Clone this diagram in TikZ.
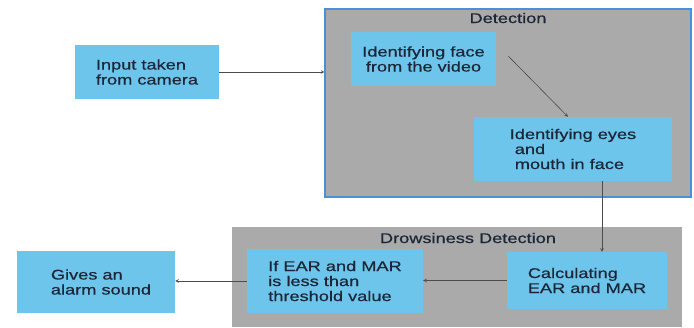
\documentclass[tikz,border=0pt]{standalone}
\usepackage{fontspec}
\setmainfont[FakeStretch=1.3]{Liberation Sans}
\newfontfamily\boxfont[FakeStretch=1.3,FakeBold=0.6]{Liberation Sans}
\usetikzlibrary{positioning}
\definecolor{boxblue}{RGB}{110,197,235}
\definecolor{panelgray}{RGB}{170,170,170}
\definecolor{panelline}{RGB}{74,144,217}
\definecolor{inkdark}{RGB}{28,38,54}
\begin{document}
\begin{tikzpicture}[x=1pt,y=-1pt,
    stepbox/.style={fill=boxblue,text=inkdark,inner sep=0pt,font=\boxfont\fontsize{14}{15}\selectfont},
    panel/.style={fill=panelgray,inner sep=0pt},
    paneltitle/.style={text=inkdark,inner sep=0pt,font=\boxfont\fontsize{14}{15}\selectfont},
    flow/.style={line width=0.6pt,draw=black!70,-stealth}]
    \useasboundingbox (0,0) rectangle (694,327);
    \node[panel,draw=panelline,line width=1.2pt,minimum width=366pt,minimum height=188pt] (det) at (508,103) {};
    \node[panel,minimum width=450pt,minimum height=100pt] (drow) at (457,277) {};
    \node[paneltitle,anchor=base] (dettitle) at (508,23) {Detection};
    \node[paneltitle,anchor=base] (drowtitle) at (468,243) {Drowsiness Detection};
    \node[stepbox,minimum width=144pt,minimum height=54pt,align=left] (input) at (147,72) {Input taken\\from camera};
    \node[stepbox,minimum width=145pt,minimum height=54pt,align=center] (face) at (423.5,59) {Identifying face\\from the video};
    \node[stepbox,minimum width=198pt,minimum height=64pt,align=left] (eyes) at (573,149) {Identifying eyes\\\ and\\\ mouth in face};
    \node[stepbox,minimum width=160pt,minimum height=57pt,align=left] (calc) at (587,280.5) {Calculating\\EAR and MAR};
    \node[stepbox,minimum width=176pt,minimum height=64pt,align=left] (cond) at (335,281) {If EAR and MAR\\is less than\\threshold value};
    \node[stepbox,minimum width=158pt,minimum height=62pt,align=left] (alarm) at (96,282) {\hspace*{10pt}Gives an\\\hspace*{10pt}alarm sound};
    \draw[flow] (input.east) -- (input.east -| det.west);
    \draw[flow] ([xshift=12pt,yshift=3pt]face.east) -- ([xshift=-5pt]eyes.north);
    \draw[flow] ([xshift=29pt]eyes.south) -- ([xshift=29pt]eyes.south |- calc.north);
    \draw[flow] (calc.west) -- (calc.west -| cond.east);
    \draw[flow] (cond.west) -- (cond.west -| alarm.east);
\end{tikzpicture}
\end{document}
